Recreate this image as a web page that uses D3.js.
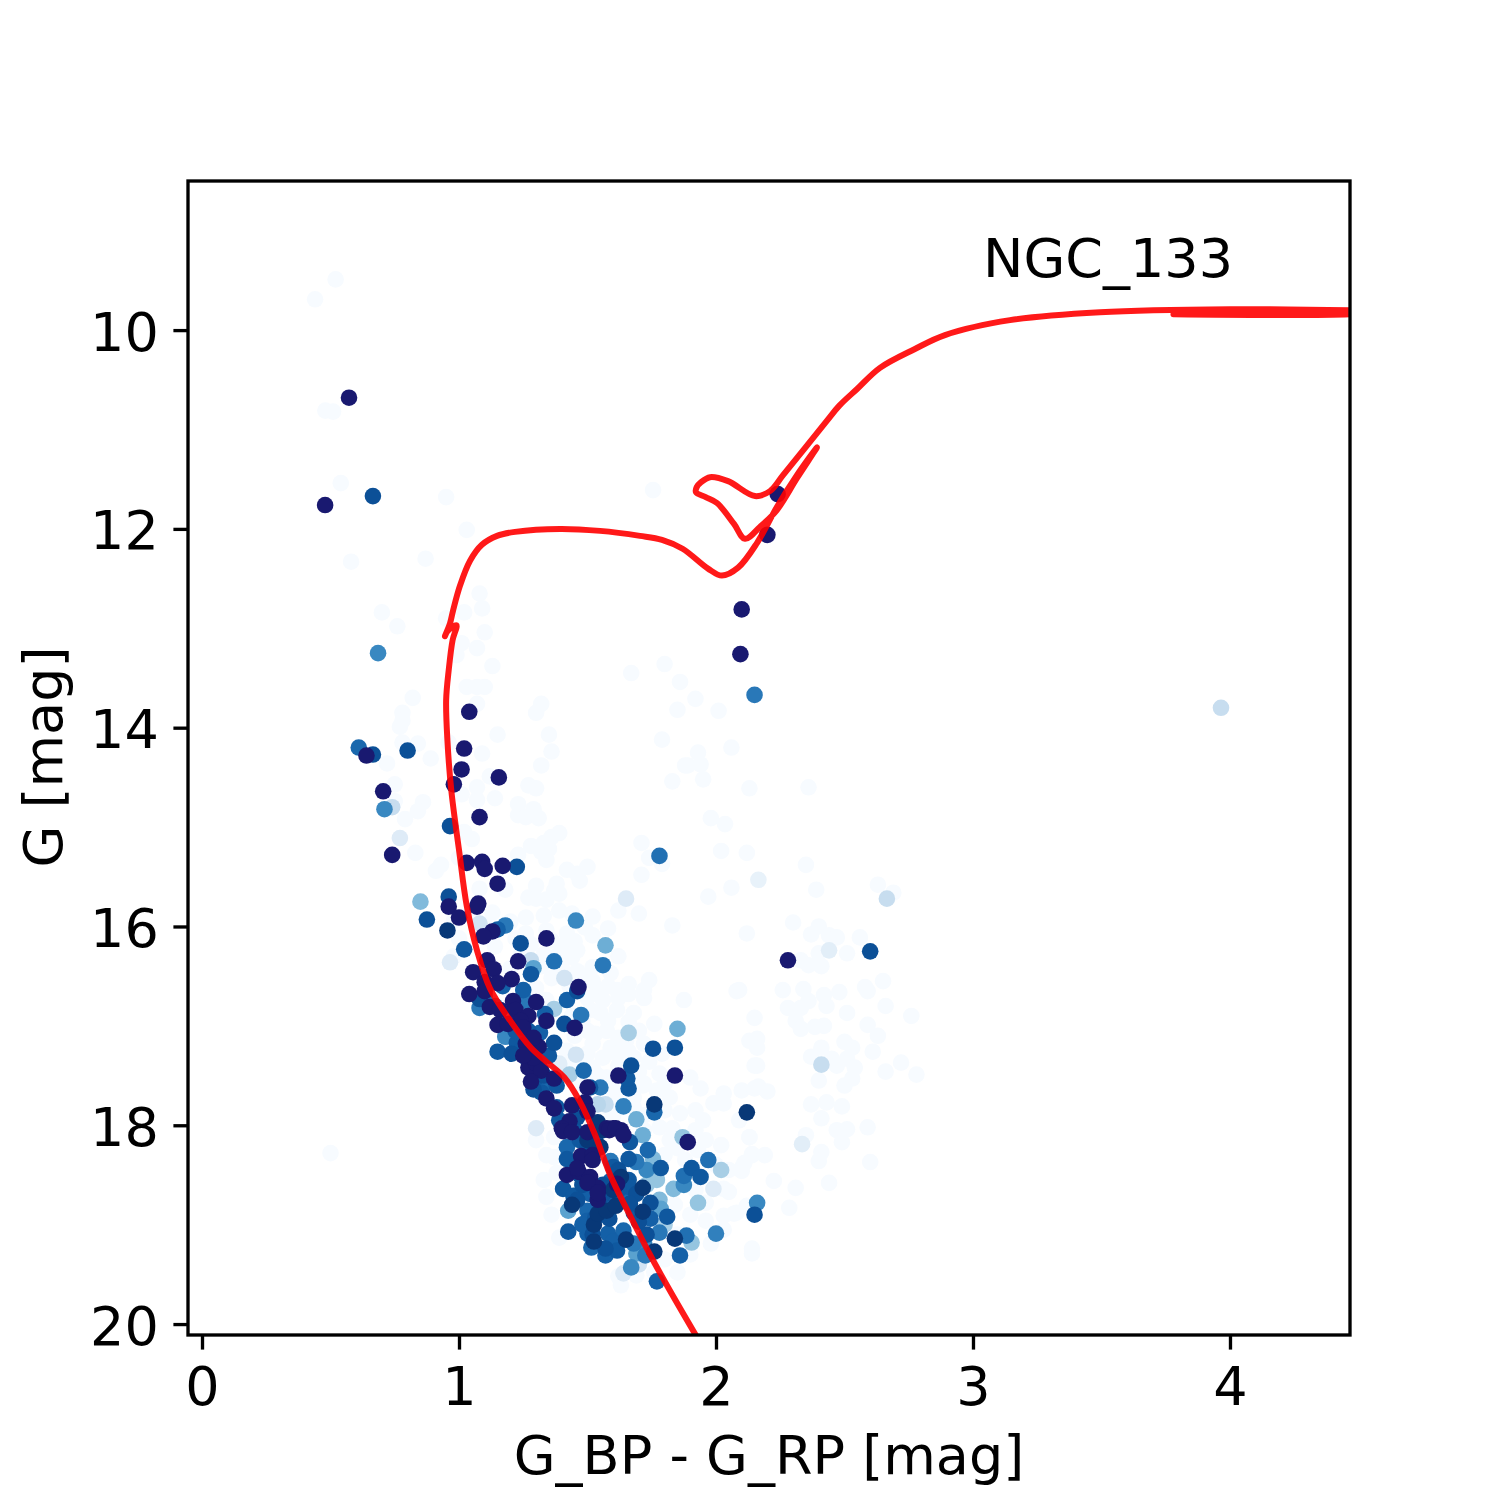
<!DOCTYPE html>
<html><head><meta charset="utf-8">
<script src="https://cdnjs.cloudflare.com/ajax/libs/d3/7.8.5/d3.min.js"></script>
<style>html,body{margin:0;padding:0;background:#fff}svg{display:block}text{font-family:"DejaVu Sans",sans-serif;fill:#000}</style>
</head><body><svg id="c" width="1500" height="1500"></svg>
<script>
const xTicks=[0,1,2,3,4];
const yTicks=[10,12,14,16,18,20];
const xLabel="G_BP - G_RP [mag]";
const yLabel="G [mag]";
const clusterName="NGC_133";
// field stars: [colour, G]
const paleStars=[[0.52,9.49],[0.44,9.69],[0.48,10.81],[0.51,10.82],[0.54,11.54],[0.95,11.68],[1.03,12.01],[0.58,12.33],[0.87,12.30],[1.08,12.65],[0.70,12.84],[1.02,12.84],[1.09,12.80],[0.76,12.98],[0.95,12.90],[1.10,13.04],[1.01,13.15],[1.07,13.20],[0.99,13.27],[1.13,13.38],[1.03,13.59],[1.07,13.59],[1.10,13.59],[0.82,13.70],[1.07,13.76],[0.78,13.85],[0.78,13.93],[0.77,13.99],[1.32,13.76],[1.30,13.85],[1.15,14.07],[1.35,14.07],[1.36,14.24],[0.78,14.15],[0.84,14.16],[0.96,14.15],[1.09,14.26],[0.89,14.31],[0.72,14.36],[1.32,14.38],[1.12,14.49],[0.75,14.57],[1.27,14.58],[1.30,14.61],[1.07,14.60],[1.01,14.67],[1.07,14.73],[1.14,14.71],[1.23,14.77],[1.29,14.82],[1.23,14.88],[1.26,14.90],[1.31,14.91],[0.86,14.75],[0.84,14.84],[0.79,14.92],[0.75,14.74],[1.02,15.05],[1.05,15.12],[1.39,15.06],[1.36,15.10],[1.33,15.16],[1.28,15.19],[1.35,15.22],[1.32,15.25],[1.34,15.33],[0.83,15.26],[1.23,15.28],[0.93,15.38],[0.91,15.44],[1.00,15.31],[1.42,15.43],[1.50,15.40],[1.46,15.47],[1.47,15.54],[1.30,15.59],[1.38,15.57],[1.37,15.64],[1.39,15.67],[1.27,15.71],[1.30,15.72],[1.34,15.73],[1.08,15.62],[1.18,15.63],[1.67,13.45],[1.80,13.36],[1.86,13.54],[1.85,13.82],[1.79,14.12],[1.89,14.38],[1.83,14.54],[1.71,15.16],[1.74,15.31],[1.79,15.37],[1.71,15.48],[1.62,15.84],[1.70,15.87],[1.83,15.99],[1.52,15.90],[1.39,15.84],[1.33,15.89],[1.26,15.91],[1.44,15.87],[1.49,16.01],[1.52,16.09],[1.42,16.07],[1.34,16.04],[1.26,16.07],[1.13,15.86],[0.98,15.94],[1.39,19.13],[1.33,18.55],[1.63,19.61],[1.69,19.51],[1.85,19.48],[2.14,19.29],[1.98,19.19],[1.96,18.96],[2.03,18.91],[2.08,18.88],[2.12,18.81],[2.05,18.67],[2.03,18.64],[2.14,18.30],[2.10,18.43],[2.13,18.12],[1.96,18.15],[1.85,18.23],[1.93,18.25],[2.10,17.65],[2.15,17.63],[1.99,17.78],[2.03,17.78],[2.03,17.68],[2.09,17.95],[1.94,17.63],[1.86,17.88],[1.90,17.52],[1.78,17.48],[1.715,17.60],[1.61,17.73],[1.78,18.02],[2.16,17.40],[1.37,18.32],[1.37,18.12],[2.30,15.96],[2.12,16.07],[2.40,16.00],[2.37,16.08],[2.44,16.09],[2.47,16.11],[2.56,16.11],[2.51,16.27],[2.40,16.27],[2.33,16.34],[2.36,16.39],[2.41,16.40],[2.65,16.55],[2.08,16.65],[2.09,16.64],[2.26,16.64],[2.34,16.63],[2.42,16.69],[2.48,16.66],[2.58,16.61],[2.59,16.65],[2.36,16.75],[2.28,16.82],[2.33,16.82],[2.43,16.80],[2.51,16.87],[2.66,16.80],[2.76,16.90],[2.15,16.92],[2.31,16.95],[2.33,17.03],[2.385,17.01],[2.42,17.00],[2.59,16.99],[2.63,17.10],[2.13,17.15],[2.16,17.13],[2.16,17.22],[2.41,17.22],[2.50,17.16],[2.53,17.22],[2.61,17.26],[2.37,17.31],[2.45,17.33],[2.51,17.33],[2.47,17.40],[2.54,17.42],[2.15,17.40],[2.72,17.37],[2.66,17.46],[2.78,17.49],[2.53,17.53],[2.40,17.55],[2.50,17.60],[2.165,17.61],[2.20,17.66],[2.37,17.79],[2.43,17.77],[2.49,17.81],[2.41,17.93],[2.47,18.05],[2.51,18.04],[2.59,18.02],[2.49,18.17],[2.35,18.10],[2.13,18.12],[2.14,18.29],[2.19,18.30],[2.41,18.27],[2.40,18.36],[2.60,18.37],[2.11,18.38],[2.10,18.46],[2.225,18.56],[2.31,18.63],[2.44,18.58],[2.285,18.83],[2.07,18.89],[2.14,19.24],[1.92,13.71],[2.01,13.83],[1.93,14.25],[2.06,14.20],[1.94,14.37],[1.88,14.38],[1.95,14.52],[2.13,14.61],[2.36,14.60],[1.98,14.91],[2.035,14.97],[2.02,15.24],[2.12,15.26],[2.35,15.38],[2.06,15.61],[1.97,15.70],[2.39,15.63],[2.63,15.58],[2.69,15.66],[0.50,18.28],[1.755,11.61],[1.44,16.31],[1.52,16.41],[1.59,16.47],[1.74,16.54],[1.72,16.72],[1.615,16.64],[1.54,16.64],[1.48,16.51],[1.55,16.87],[1.615,16.84],[1.68,16.87],[1.575,17.05],[1.52,17.18],[1.59,17.22],[1.70,17.05],[1.76,16.98],[1.79,17.28],[1.68,17.32],[1.52,17.42],[1.575,17.52],[1.72,17.58],[1.77,17.65],[1.615,17.28],[1.72,16.64],[1.875,16.74],[1.40,16.20],[1.33,16.28],[1.58,16.02],[1.62,16.30],[1.66,16.58],[1.45,16.15],[1.65,17.15],[1.50,17.05],[1.60,17.65],[1.68,17.72],[1.46,17.35],[1.48,16.95],[1.60,17.90],[1.72,17.90],[1.83,18.03],[2.00,18.40],[1.90,18.90],[1.85,19.10],[2.03,19.05],[1.52,18.00],[1.95,17.95],
[1.20,15.95],[1.22,16.12],[1.28,16.18],[1.36,16.14],[1.46,16.24],[1.38,16.30],[1.32,16.40],[1.40,16.42],[1.46,16.45],[1.36,16.52],[1.43,16.60],[1.52,16.55],[1.58,16.60],[1.66,16.68],[1.50,16.72],[1.56,16.74],[1.62,16.72],[1.44,16.90],[1.51,16.84],[1.58,16.95],[1.66,16.96],[1.45,17.10],[1.53,17.08],[1.62,17.12],[1.72,17.18],[1.42,17.25],[1.50,17.28],[1.56,17.32],[1.66,17.26],[1.74,17.36],[1.44,17.40],[1.62,17.40],[1.70,17.46],[1.80,17.58],[1.54,17.50],[1.46,17.58],[1.66,17.58],[1.82,17.72],[1.58,17.82],[1.68,17.82],[1.80,17.85],[1.92,17.85],[1.72,18.05],[1.82,18.15],[1.92,18.05],[2.02,18.20],[1.88,18.35],[2.05,18.45],[1.80,18.30],[1.30,18.15],[1.34,18.30],[1.34,18.72],[1.36,18.90],[1.40,18.30],[1.38,18.48],[1.92,18.65],[1.84,18.80],[1.96,18.78],[1.90,19.30],[1.80,19.35],[1.62,19.52],[1.76,19.48],[1.30,16.62],[1.34,16.74],[1.20,16.42],[1.24,16.28],[1.00,16.12],[0.98,16.30],[1.14,16.20],[1.10,15.98],[1.04,15.88]];
// tinted stars: [colour, G, membership]
const tintedStars=[[0.665,11.67,0.95],[0.685,13.25,0.6],[0.61,14.20,0.8],[0.665,14.27,0.95],[0.80,14.23,0.95],[0.71,14.82,0.6],[0.74,14.80,0.2],[0.965,14.99,0.95],[1.225,15.40,0.95],[1.78,15.29,0.75],[0.85,15.75,0.4],[0.96,15.70,0.95],[0.875,15.93,0.95],[0.955,16.04,1],[1.18,15.99,0.7],[1.15,16.03,0.85],[1.08,15.97,0.15],[1.455,15.94,0.6],[1.57,16.19,0.45],[1.24,16.17,0.95],[1.02,16.23,0.9],[1.37,16.35,0.75],[0.965,16.36,0.1],[1.28,16.48,0.9],[1.29,16.42,0.5],[1.28,16.34,0.2],[1.56,16.39,0.7],[1.41,16.52,0.15],[1.25,16.64,0.85],[1.46,16.65,0.95],[1.42,16.74,0.85],[1.37,16.83,0.3],[1.335,16.88,0.85],[1.475,16.89,0.7],[1.08,16.82,0.7],[1.08,16.73,0.95],[1.41,16.98,0.95],[1.18,17.11,0.6],[1.315,17.07,0.85],[1.37,17.17,0.95],[1.225,17.17,0.9],[1.15,17.26,0.9],[1.205,17.28,0.95],[1.66,17.07,0.3],[1.755,17.23,0.95],[1.455,17.29,0.15],[1.67,17.40,0.95],[1.485,17.45,0.8],[1.43,17.49,0.3],[1.66,17.63,0.9],[1.655,17.53,0.9],[1.29,17.64,0.95],[1.34,17.58,0.8],[1.55,17.62,0.7],[1.51,17.62,0.9],[1.54,17.79,0.25],[1.57,17.79,0.2],[1.64,17.81,0.65],[1.76,17.79,1],[1.76,17.87,0.8],[1.69,17.94,0.45],[1.30,18.03,0.1],[1.39,17.95,0.9],[1.38,17.82,0.9],[1.54,17.97,1],[1.85,17.03,0.45],[1.84,17.22,0.95],[2.12,17.87,1],[1.715,18.10,0.45],[1.87,18.12,0.35],[1.665,18.17,0.9],[1.42,18.22,0.8],[1.42,18.34,0.9],[1.735,18.25,0.8],[1.66,18.34,0.9],[1.69,18.37,0.7],[1.73,18.45,0.6],[1.755,18.34,0.4],[1.785,18.43,0.9],[1.97,18.35,0.75],[2.02,18.45,0.3],[1.905,18.43,0.9],[1.875,18.51,0.75],[1.94,18.52,0.9],[1.875,18.60,0.6],[1.835,18.64,0.4],[1.99,18.64,0.1],[1.93,18.78,0.35],[1.81,18.92,0.9],[1.715,18.63,1],[1.69,18.69,0.95],[1.645,18.73,0.8],[1.59,18.73,0.85],[1.615,18.49,0.85],[1.59,18.36,0.7],[1.59,18.56,0.85],[1.405,18.64,0.9],[1.445,18.71,0.9],[1.425,18.86,0.5],[1.44,18.80,1],[1.51,18.69,0.85],[1.50,18.86,0.8],[1.50,18.96,0.85],[1.525,19.00,1],[1.54,18.89,1],[1.575,18.86,1],[1.585,18.94,0.95],[1.61,18.81,1],[1.665,18.79,0.95],[1.715,18.87,1],[1.745,18.78,0.95],[1.745,18.94,0.85],[1.785,18.84,0.5],[1.78,19.08,0.7],[1.73,19.10,0.95],[1.65,19.15,1],[1.68,19.19,0.7],[1.64,19.06,0.8],[1.84,19.14,1],[1.885,19.11,0.75],[1.905,19.18,0.35],[2.00,19.09,0.65],[1.86,19.31,0.85],[1.76,19.27,1],[1.725,19.31,0.7],[1.67,19.43,0.6],[1.69,19.29,0.5],[1.77,19.57,0.85],[1.425,19.07,0.9],[1.50,19.09,0.85],[1.525,19.17,1],[1.515,19.23,0.8],[1.57,19.24,0.95],[1.57,19.31,0.85],[1.615,19.26,0.9],[1.58,19.09,0.85],[2.16,18.78,0.6],[2.15,18.90,0.95],[1.64,19.49,0.1],[2.60,16.25,0.95],[2.41,17.39,0.2],[2.15,13.67,0.7],[2.665,15.72,0.2],[3.965,13.80,0.2],[0.77,15.11,0.1],[1.65,15.72,0.1],[2.44,16.24,0.08],[2.335,18.19,0.08],[2.165,15.53,0.05],[1.39,17.38,0.08],
[1.50,18.15,1],[1.53,18.12,0.95],[1.55,18.22,1],[1.50,18.22,0.95],[1.56,18.05,1],[1.47,18.15,0.9],[1.46,17.92,0.95],[1.42,18.0,0.95],[1.45,18.05,0.9],[1.62,18.45,0.95],[1.63,18.52,1],[1.60,18.42,0.9],[1.66,18.55,0.9],[1.66,18.62,0.9],[1.62,18.65,0.9],[1.46,18.75,0.95],[1.48,18.6,0.95],[1.47,18.5,0.9],[1.56,18.6,0.95],[1.56,18.7,0.95],[1.6,18.65,1],[1.53,18.93,0.9],[1.48,19.0,0.85],[1.52,19.1,0.95],[1.70,18.97,0.95],[1.68,18.88,0.9],[1.78,18.75,0.4],[1.73,18.6,0.35],[1.77,18.55,0.35],[1.63,19.16,0.6],[1.6,19.17,0.85],[1.72,19.18,0.6],[1.8,19.0,0.3],[1.7,19.4,0.15],[1.38,17.6,0.9],[1.33,17.5,0.95],[1.22,17.05,0.9],[1.27,17.05,0.9],[1.35,17.3,0.9],[1.27,17.35,0.85],[1.3,17.52,0.9],[1.32,17.67,0.9],[1.24,17.25,0.9],[1.32,17.32,0.85],[1.1,16.7,0.8],[1.17,16.6,0.85],[1.14,16.8,0.7],[1.26,16.75,0.7]];
// high-probability members
const navyStars=[[0.572,10.68],[0.479,11.76],[2.24,11.65],[2.20,12.06],[2.10,12.81],[2.095,13.26],[1.04,13.84],[1.02,14.21],[0.64,14.28],[1.01,14.42],[1.155,14.50],[0.98,14.57],[0.705,14.64],[1.08,14.90],[0.74,15.28],[1.03,15.36],[1.09,15.35],[1.10,15.42],[1.17,15.39],[1.15,15.57],[0.96,15.80],[1.075,15.77],[1.07,15.80],[1.00,15.91],[1.13,16.05],[1.095,16.10],[1.34,16.12],[1.23,16.35],[1.11,16.34],[1.055,16.46],[1.135,16.43],[1.205,16.53],[1.10,16.56],[1.15,16.57],[1.10,16.65],[1.04,16.68],[1.465,16.61],[1.30,16.76],[1.21,16.75],[1.12,16.81],[1.16,16.84],[1.22,16.84],[1.27,16.90],[1.24,16.95],[1.15,16.99],[1.19,16.98],[1.34,16.95],[1.45,17.02],[1.26,17.18],[1.31,17.21],[1.27,17.28],[1.27,17.42],[1.30,17.38],[1.32,17.45],[1.37,17.53],[1.28,17.56],[1.50,17.62],[1.62,17.50],[1.84,17.50],[1.34,17.73],[1.37,17.83],[1.44,17.80],[1.49,17.77],[1.50,17.86],[1.43,17.96],[1.40,18.03],[1.60,18.03],[1.575,18.03],[1.63,18.05],[1.405,18.06],[1.44,18.07],[1.50,18.07],[1.585,18.05],[1.61,18.03],[1.64,18.10],[1.89,18.17],[1.475,18.31],[1.52,18.30],[1.52,18.35],[1.42,18.50],[1.465,18.47],[1.51,18.52],[1.54,18.63],[1.54,18.75],[1.615,18.59],[2.28,16.34],[1.25,17.02],[1.29,17.32],[1.29,17.12],[1.25,17.30],[1.46,18.43],[1.50,18.58],[1.54,18.68]];
// isochrone, in drawing order
const isoColour=[1.93,1.82,1.745,1.66,1.59,1.53,1.47,1.41,1.34,1.28,1.20,1.12,1.07,1.03,1.00,0.97,0.955,0.95,0.96,0.975,0.99,0.955,0.945,0.965,0.977,1.004,1.043,1.089,1.148,1.218,1.393,1.549,1.704,1.79,1.87,1.969,2.023,2.086,2.16,2.237,2.315,2.393,2.315,2.237,2.171,2.113,2.07,2.004,1.96,1.922,1.925,1.942,1.977,2.047,2.152,2.21,2.261,2.432,2.48,2.55,2.638,2.774,2.891,3.144,3.494,4.0,4.467,4.6,4.467,3.78];
const isoG=[20.15,19.66,19.31,18.88,18.51,18.10,17.76,17.52,17.36,17.22,16.95,16.62,16.24,15.79,15.23,14.63,14.13,13.72,13.42,13.12,12.97,13.03,13.08,12.95,12.82,12.57,12.32,12.16,12.07,12.03,12.00,12.02,12.07,12.11,12.20,12.40,12.47,12.39,12.14,11.78,11.46,11.18,11.49,11.81,11.98,12.10,11.95,11.74,11.68,11.63,11.58,11.53,11.48,11.52,11.67,11.62,11.46,10.91,10.76,10.59,10.38,10.19,10.05,9.90,9.82,9.79,9.80,9.81,9.84,9.84];

const frame={l:188,r:1350,t:181,b:1335};
const x=d3.scaleLinear().domain([-0.0545,4.467]).range([frame.l,frame.r]);
const y=d3.scaleLinear().domain([8.5,20.11]).range([frame.t,frame.b]);
const shade=d3.scaleLinear().domain([0,0.6,0.95,1]).range([0.02,0.66,0.88,0.97]).clamp(true);
const NAVY="#191970",R=8.3,FS=54,LW=3.33;
const svg=d3.select("#c");
svg.append("defs").append("clipPath").attr("id","plot").append("rect")
  .attr("x",frame.l).attr("y",frame.t).attr("width",frame.r-frame.l).attr("height",frame.b-frame.t);
const plot=svg.append("g").attr("clip-path","url(#plot)");
plot.append("g").selectAll("circle").data(paleStars).join("circle")
  .attr("cx",d=>x(d[0])).attr("cy",d=>y(d[1])).attr("r",R).attr("fill",d3.interpolateBlues(0));
plot.append("g").selectAll("circle").data(tintedStars.slice().sort((a,b)=>a[2]-b[2])).join("circle")
  .attr("cx",d=>x(d[0])).attr("cy",d=>y(d[1])).attr("r",R).attr("fill",d=>d3.interpolateBlues(shade(d[2])));
plot.append("g").selectAll("circle").data(navyStars).join("circle")
  .attr("cx",d=>x(d[0])).attr("cy",d=>y(d[1])).attr("r",R).attr("fill",NAVY);
const line=d3.line().x(d=>x(d[0])).y(d=>y(d[1])).curve(d3.curveCatmullRom.alpha(0.5));
plot.append("path").attr("d",line(isoColour.map((c,i)=>[c,isoG[i]])))
  .attr("fill","none").attr("stroke","#ff0000").attr("stroke-opacity",0.9)
  .attr("stroke-width",6).attr("stroke-linejoin","round").attr("stroke-linecap","round");

const xAxis=svg.append("g").attr("transform",`translate(0,${frame.b})`)
  .call(d3.axisBottom(x).tickValues(xTicks).tickFormat(d3.format("d")).tickSize(14.6).tickPadding(17));
const yAxis=svg.append("g").attr("transform",`translate(${frame.l},0)`)
  .call(d3.axisLeft(y).tickValues(yTicks).tickFormat(d3.format("d")).tickSize(14.6).tickPadding(14.6));
[xAxis,yAxis].forEach(a=>{
  a.select(".domain").remove();
  a.selectAll("line").attr("stroke","#000").attr("stroke-width",LW);
  a.selectAll("text").attr("font-size",FS).attr("font-family","DejaVu Sans");
});
yAxis.selectAll("text").attr("dy","0.37em");
svg.append("rect").attr("x",frame.l).attr("y",frame.t).attr("width",frame.r-frame.l).attr("height",frame.b-frame.t)
  .attr("fill","none").attr("stroke","#000").attr("stroke-width",LW);
svg.append("text").attr("x",769).attr("y",1474).attr("text-anchor","middle").attr("font-size",FS).text(xLabel);
svg.append("text").attr("transform","translate(62,757) rotate(-90)").attr("text-anchor","middle").attr("font-size",FS).text(yLabel);
svg.append("text").attr("x",983).attr("y",277).attr("font-size",FS).text(clusterName);
</script></body></html>
